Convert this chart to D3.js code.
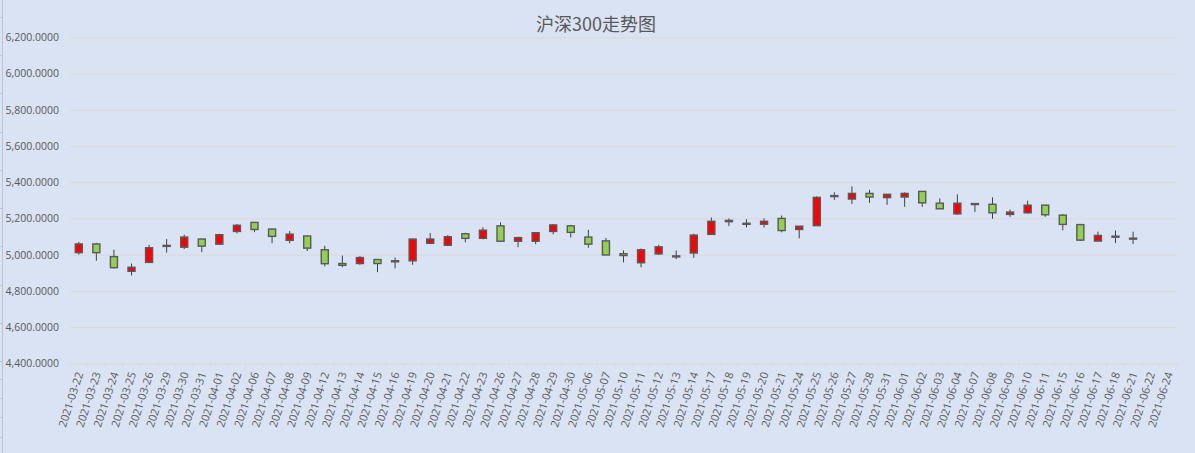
<!DOCTYPE html>
<html>
<head>
<meta charset="utf-8">
<script src="https://cdn.jsdelivr.net/npm/d3@7"></script>
<style>
  html, body { margin: 0; padding: 0; background: #DAE3F3; }
  svg { display: block; }
</style>
</head>
<body>
<svg id="chart" width="1195" height="453"></svg>
<script>
const title = "沪深300走势图";
const dates = ["2021-03-22","2021-03-23","2021-03-24","2021-03-25","2021-03-26","2021-03-29","2021-03-30","2021-03-31","2021-04-01","2021-04-02",
"2021-04-06","2021-04-07","2021-04-08","2021-04-09","2021-04-12","2021-04-13","2021-04-14","2021-04-15","2021-04-16","2021-04-19",
"2021-04-20","2021-04-21","2021-04-22","2021-04-23","2021-04-26","2021-04-27","2021-04-28","2021-04-29","2021-04-30","2021-05-06",
"2021-05-07","2021-05-10","2021-05-11","2021-05-12","2021-05-13","2021-05-14","2021-05-17","2021-05-18","2021-05-19","2021-05-20",
"2021-05-21","2021-05-24","2021-05-25","2021-05-26","2021-05-27","2021-05-28","2021-05-31","2021-06-01","2021-06-02","2021-06-03",
"2021-06-04","2021-06-07","2021-06-08","2021-06-09","2021-06-10","2021-06-11","2021-06-15","2021-06-16","2021-06-17","2021-06-18",
"2021-06-21","2021-06-22","2021-06-24"];
const openV  = [5011,5059,4989,4908,4957,5050,5041,5086,5058,5128, 5178,5141,5079,5103,5027,4951,4951,4973,4964,4966,
                5063,5052,5115,5090,5159,5074,5074,5128,5159,5097, 5076,5005,4955,5004,4991,5009,5112,5182,5171,5168,
                5200,5139,5160,5324,5307,5338,5315,5318,5349,5284, 5225,5282,5278,5222,5231,5273,5218,5166,5075,5100,
                5089,null,null];
const highV  = [5070,5065,5027,4951,5054,5086,5110,5088,5115,5169, 5180,5143,5130,5105,5049,4995,4991,4975,4984,5088,
                5119,5108,5121,5151,5178,5099,5122,5169,5164,5137, 5092,5023,5034,5054,5023,5115,5205,5200,5195,5200,
                5216,5158,5322,5344,5377,5358,5334,5344,5350,5311, 5333,5284,5316,5249,5298,5274,5224,5167,5127,5133,
                5127,null,null];
const lowV   = [5000,4966,4923,4885,4957,5011,5031,5014,5057,5117, 5124,5063,5063,5020,4935,4930,4944,4903,4924,4944,
                5058,5047,5068,5085,5073,5041,5058,5112,5095,5038, 4998,4957,4930,4998,4975,4982,5110,5157,5150,5150,
                5123,5090,5160,5302,5280,5286,5275,5264,5264,5252, 5220,5236,5198,5209,5227,5209,5134,5075,5074,5064,
                5058,null,null];
const closeV = [5059,5011,4928,4930,5038,5051,5097,5047,5110,5162, 5139,5101,5113,5036,4950,4941,4984,4951,4966,5086,
                5086,5099,5090,5135,5074,5094,5121,5164,5123,5058, 4998,4995,5027,5043,4993,5108,5184,5189,5173,5184,
                5133,5157,5316,5326,5338,5318,5333,5338,5286,5253, 5284,5280,5231,5235,5273,5220,5167,5080,5106,5102,
                5091,null,null];
const yTicks = [4400,4600,4800,5000,5200,5400,5600,5800,6000,6200];

const svg = d3.select("#chart");
const W = 1195, H = 453;
const plot = {left: 70, right: 1177, top: 37.3, bottom: 363.3};
const font = "'Open Sans', 'Liberation Sans', sans-serif";

svg.append("rect").attr("width", W).attr("height", H).attr("fill", "#DAE3F3");

// left frame line with small marks
const frame = svg.append("g");
frame.append("line").attr("x1", 2.5).attr("x2", 2.5).attr("y1", 0).attr("y2", H)
  .attr("stroke", "#BFC5CF").attr("stroke-width", 1);
const marks = d3.range(16.7, 362, 38.3).concat([379, 398, 417, 437]);
frame.selectAll("line.m").data(marks).enter().append("line").attr("class", "m")
  .attr("x1", 0).attr("x2", 2.5).attr("y1", d => Math.round(d) + 0.5).attr("y2", d => Math.round(d) + 0.5)
  .attr("stroke", "#BFC5CF");

const x = d3.scaleBand().domain(dates).range([plot.left, plot.right]).padding(0);
const y = d3.scaleLinear().domain([4400, 6200]).range([plot.bottom, plot.top]);

// gridlines + y axis labels
const yAxis = d3.axisLeft(y).tickValues(yTicks).tickFormat(d3.format(",.4f"))
  .tickSize(-(plot.right - plot.left)).tickPadding(11);
const gy = svg.append("g").attr("transform", `translate(${plot.left},0)`).call(yAxis);
gy.select(".domain").remove();
gy.selectAll(".tick line").attr("stroke", "#D9D9D9").attr("stroke-width", 1);
gy.selectAll(".tick text").attr("fill", "#595959")
  .style("font-family", font).style("font-size", "10.5px");

// x axis
const xAxis = d3.axisBottom(x).tickSize(0).tickFormat(d => d);
const gx = svg.append("g").attr("transform", `translate(0,${plot.bottom})`).call(xAxis);
gx.select(".domain").attr("stroke", "#D9D9D9");
gx.selectAll(".tick text")
  .attr("fill", "#595959")
  .style("font-family", font).style("font-size", "11px")
  .attr("text-anchor", "end")
  .attr("dy", "0.35em")
  .attr("transform", "translate(1,9) rotate(-72)")
  .attr("x", 0).attr("y", 0);
// boundary tick marks
const bounds = dates.map(d => x(d)).concat([plot.right]);
gx.selectAll("line.bt").data(bounds).enter().append("line").attr("class", "bt")
  .attr("x1", d => d).attr("x2", d => d).attr("y1", 0).attr("y2", 4)
  .attr("stroke", "#D9D9D9");

// candles
const data = dates.map((d, i) => ({d, o: openV[i], h: highV[i], l: lowV[i], c: closeV[i]}))
  .filter(e => e.o != null);
const bw = x.bandwidth() * 0.4;
const g = svg.append("g");
const cg = g.selectAll("g.c").data(data).enter().append("g").attr("class", "c");
cg.append("line")
  .attr("x1", e => x(e.d) + x.bandwidth() / 2).attr("x2", e => x(e.d) + x.bandwidth() / 2)
  .attr("y1", e => y(e.h)).attr("y2", e => y(e.l))
  .attr("stroke", "#404040").attr("stroke-width", 1);
cg.append("rect")
  .attr("x", e => x(e.d) + x.bandwidth() / 2 - bw / 2)
  .attr("width", bw)
  .attr("y", e => y(Math.max(e.o, e.c)))
  .attr("height", e => Math.max(1, Math.abs(y(e.o) - y(e.c))))
  .attr("fill", e => e.c >= e.o ? "#FF0000" : "#92D050")
  .attr("stroke", "#595959").attr("stroke-width", 1.4);

// title
svg.append("text").attr("x", 596).attr("y", 31).attr("text-anchor", "middle")
  .attr("fill", "#595959")
  .style("font-family", "'Noto Sans CJK SC', sans-serif").style("font-size", "18px")
  .text(title);
</script>
</body>
</html>
